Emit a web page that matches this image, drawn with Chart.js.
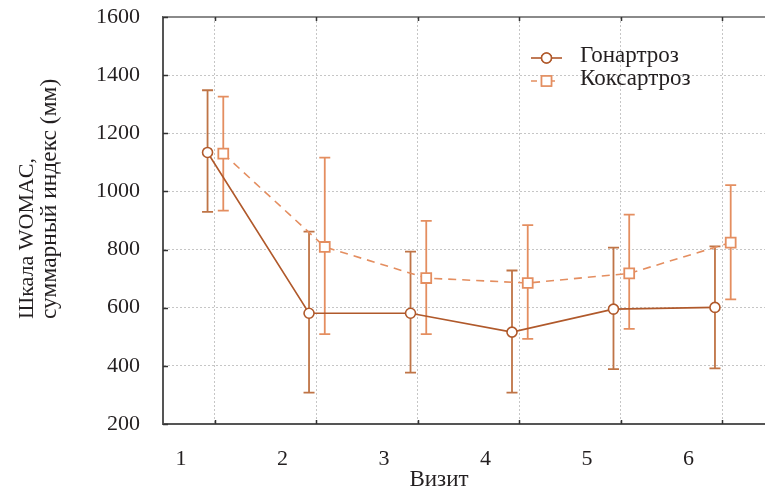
<!DOCTYPE html>
<html lang="ru">
<head>
<meta charset="utf-8">
<title>WOMAC по визитам</title>
<script src="https://cdn.jsdelivr.net/npm/chart.js@4.4.1/dist/chart.umd.min.js"></script>
<style>
  html, body { margin: 0; padding: 0; background: #fff; }
  #wrap { width: 765px; height: 492px; }
</style>
</head>
<body>
<div id="wrap"><canvas id="womacChart" width="765" height="492"></canvas></div>
<script>
// Визиты и значения шкалы WOMAC (среднее и границы разброса)
const visits = [1, 2, 3, 4, 5, 6];

const gonMean = [1134, 581, 581, 516, 595, 601];
const gonLow  = [930, 308, 377, 308, 389, 391];
const gonHigh = [1348, 862, 793, 728, 807, 811];

const koxMean = [1130, 809, 702, 685, 718, 824];
const koxLow  = [934, 509, 509, 493, 527, 629];
const koxHigh = [1326, 1116, 899, 884, 920, 1022];

const seriesNames = ['Гонартроз', 'Коксартроз'];
const yTicks = [200, 400, 600, 800, 1000, 1200, 1400, 1600];

// небольшой сдвиг групп по оси X, чтобы усы не перекрывались
const DODGE_GON = -0.073;
const DODGE_KOX = 0.082;

const GON_COLOR = '#b0592b';
const GON_BAR = '#bf7446';
const KOX_COLOR = '#e48e60';
const FONT = "'Liberation Serif', 'DejaVu Serif', serif";
const TEXT = '#231f20';

function toPoints(means, dx) {
    return visits.map((v, i) => ({ x: v + dx, y: means[i] }));
}

// Усы: вертикальная линия с поперечными засечками
const errorBars = {
    id: 'errorBars',
    beforeDatasetsDraw(chart) {
        const { ctx, scales: { x, y } } = chart;
        const groups = [
            { dx: DODGE_GON, lo: gonLow, hi: gonHigh, color: GON_BAR },
            { dx: DODGE_KOX, lo: koxLow, hi: koxHigh, color: KOX_COLOR }
        ];
        ctx.save();
        groups.forEach(g => {
            ctx.strokeStyle = g.color;
            ctx.lineWidth = 1.8;
            visits.forEach((v, i) => {
                const px = x.getPixelForValue(v + g.dx);
                const top = y.getPixelForValue(g.hi[i]);
                const bot = y.getPixelForValue(g.lo[i]);
                ctx.beginPath();
                ctx.moveTo(px, top); ctx.lineTo(px, bot);
                ctx.moveTo(px - 5.5, top); ctx.lineTo(px + 5.5, top);
                ctx.moveTo(px - 5.5, bot); ctx.lineTo(px + 5.5, bot);
                ctx.stroke();
            });
        });
        ctx.restore();
    }
};

// Рамка сверху, внутренние засечки осей, подписи осей и легенда
const frame = {
    id: 'frame',
    afterDraw(chart) {
        const { ctx, chartArea: a, scales: { x, y } } = chart;
        ctx.save();
        ctx.strokeStyle = '#8a8a8a';
        ctx.lineWidth = 2;
        ctx.beginPath();
        ctx.moveTo(a.left, a.top); ctx.lineTo(a.right, a.top);
        ctx.stroke();

        ctx.strokeStyle = '#333';
        ctx.lineWidth = 1.5;
        ctx.beginPath();
        x.ticks.forEach(t => {
            const px = Math.round(x.getPixelForValue(t.value)) + 0.5;
            ctx.moveTo(px, a.bottom); ctx.lineTo(px, a.bottom - 4);
            ctx.moveTo(px, a.top); ctx.lineTo(px, a.top + 4);
        });
        y.ticks.forEach(t => {
            const py = Math.round(y.getPixelForValue(t.value)) + 0.5;
            ctx.moveTo(a.left, py); ctx.lineTo(a.left + 5, py);
        });
        ctx.stroke();

        ctx.fillStyle = TEXT;
        ctx.textBaseline = 'middle';
        ctx.textAlign = 'center';
        ctx.font = '23px ' + FONT;
        ctx.fillText('Визит', 439, 480);

        ctx.font = '22px ' + FONT;
        ctx.save();
        ctx.translate(27, 319);
        ctx.rotate(-Math.PI / 2);
        ctx.textAlign = 'left';
        ctx.fillText('Шкала WOMAC,', 0, 0);
        ctx.font = '23.5px ' + FONT;
        ctx.fillText('суммарный индекс (мм)', 0, 23);
        ctx.restore();

        // легенда
        ctx.font = '23px ' + FONT;
        const lx = 531, tx = 580;
        const rows = [
            { y: 58, color: GON_COLOR, dash: [], style: 'circle', r: 5 },
            { y: 81, color: KOX_COLOR, dash: [6, 12], style: 'rect', r: 7 }
        ];
        rows.forEach((row, i) => {
            ctx.strokeStyle = row.color;
            ctx.lineWidth = 1.6;
            ctx.setLineDash(row.dash);
            ctx.beginPath();
            ctx.moveTo(lx, row.y); ctx.lineTo(lx + 31, row.y);
            ctx.stroke();
            ctx.setLineDash([]);
            Chart.helpers.drawPoint(ctx, {
                pointStyle: row.style, radius: row.r, rotation: 0, borderWidth: 1.6
            }, lx + 15.5, row.y);
            ctx.fillStyle = '#fff';
            ctx.fill();
            ctx.stroke();
            ctx.fillStyle = TEXT;
            ctx.textAlign = 'left';
            ctx.fillText(seriesNames[i], tx, row.y - 2);
        });
        ctx.restore();
    }
};

new Chart(document.getElementById('womacChart'), {
    type: 'line',
    data: {
        datasets: [
            {
                label: seriesNames[0],
                data: toPoints(gonMean, DODGE_GON),
                borderColor: GON_COLOR,
                borderWidth: 1.6,
                pointStyle: 'circle',
                pointRadius: 5,
                pointBorderWidth: 1.6,
                pointBackgroundColor: '#fff',
                pointBorderColor: GON_COLOR,
                tension: 0
            },
            {
                label: seriesNames[1],
                data: toPoints(koxMean, DODGE_KOX),
                borderColor: KOX_COLOR,
                borderWidth: 1.6,
                borderDash: [8, 6],
                pointStyle: 'rect',
                pointRadius: 7,
                pointBorderWidth: 1.8,
                pointBackgroundColor: '#fff',
                pointBorderColor: KOX_COLOR,
                tension: 0
            }
        ]
    },
    options: {
        responsive: false,
        animation: false,
        layout: { autoPadding: false, padding: { top: 17, right: 0, bottom: 0, left: 0 } },
        plugins: {
            legend: { display: false },
            tooltip: { enabled: false }
        },
        scales: {
            x: {
                type: 'linear',
                min: 0.488,
                max: 6.42,
                afterFit: s => {
                    s.height = 68;
                    s.paddingLeft = 0;
                    s.paddingRight = 0;
                },
                ticks: {
                    stepSize: 1,
                    includeBounds: false,
                    labelOffset: -34,
                    padding: 22,
                    color: TEXT,
                    font: { family: FONT, size: 22 },
                    callback: v => String(v)
                },
                grid: { color: '#c6c6c6', lineWidth: 1, drawTicks: false },
                border: { display: true, color: '#555', width: 2, dash: [2, 2] }
            },
            y: {
                min: 200,
                max: 1600,
                afterFit: s => {
                    s.width = 163;
                    s.paddingTop = 0;
                    s.paddingBottom = 0;
                },
                afterBuildTicks: s => { s.ticks = yTicks.map(v => ({ value: v })); },
                ticks: {
                    padding: 23,
                    color: TEXT,
                    font: { family: FONT, size: 22 },
                    callback: v => String(v)
                },
                grid: { color: '#c6c6c6', lineWidth: 1, drawTicks: false },
                border: { display: true, color: '#555', width: 2, dash: [2, 2] }
            }
        }
    },
    plugins: [errorBars, frame]
});
</script>
</body>
</html>
